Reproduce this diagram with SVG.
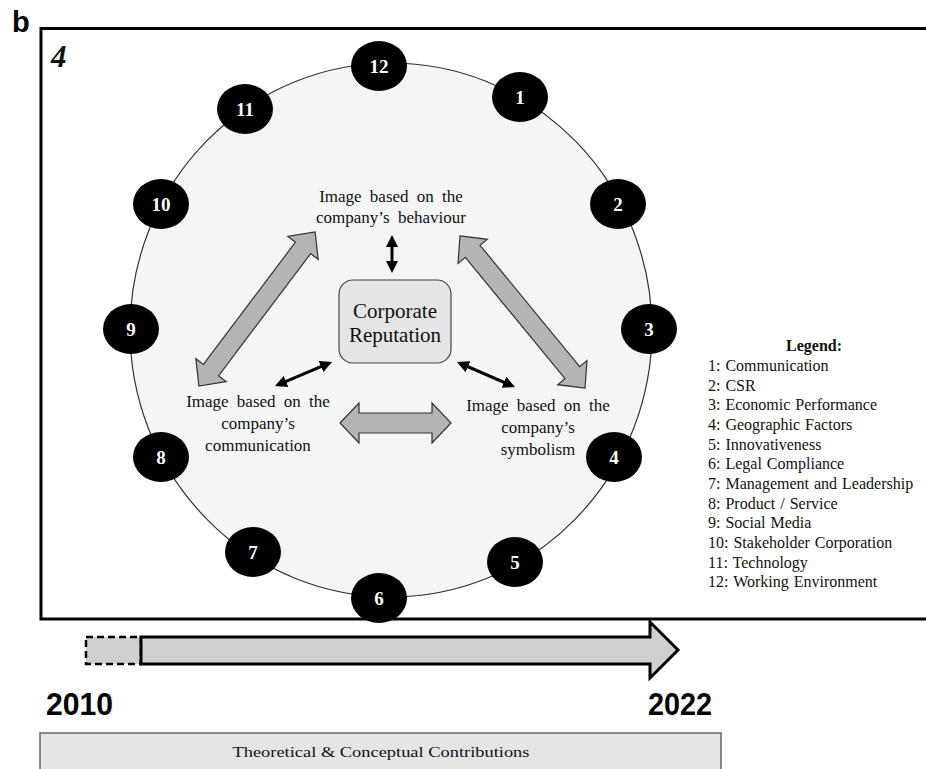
<svg xmlns="http://www.w3.org/2000/svg" width="926" height="769" viewBox="0 0 926 769">
  <style>
    .serif { font-family: "Liberation Serif", "Times New Roman", serif; fill: #111; }
    .lbl { font-size: 17px; text-anchor: middle; word-spacing: 4px; }
    .badge ellipse { fill: #000; }
    .badge text { font-family: "Liberation Serif", serif; font-weight: bold; font-size: 19px; fill: #fff; text-anchor: middle; }
    .legend { font-family: "Liberation Serif", serif; font-size: 16px; fill: #111; word-spacing: 1px; }
    .garrow { fill: #b4b4b4; stroke: #333; stroke-width: 1.2; stroke-linejoin: miter; }
    .barrow { stroke: #000; stroke-width: 3; fill: none; marker-start: url(#ah); marker-end: url(#ah); }
    .sans { font-family: "Liberation Sans", Arial, sans-serif; font-weight: bold; fill: #000; }
  </style>
  <defs>
    <marker id="ah" viewBox="0 0 12 12" refX="7" refY="6" markerWidth="12" markerHeight="12" markerUnits="userSpaceOnUse" orient="auto-start-reverse">
      <path d="M0,0 L12,6 L0,12 z" fill="#000"/>
    </marker>
  </defs>
  <rect width="926" height="769" fill="#fff"/>

  <!-- panel label -->
  <text x="12" y="32" class="sans" font-size="29">b</text>

  <!-- main frame -->
  <rect x="41" y="28.5" width="900" height="590.5" fill="#fff" stroke="#000" stroke-width="3"/>
  <text x="51" y="67" class="serif" font-size="31" font-style="italic" font-weight="bold">4</text>

  <!-- big circle -->
  <g id="ring">
    <ellipse cx="391" cy="330" rx="261" ry="267" fill="#f5f5f5" stroke="#333" stroke-width="1.2"/>
  </g>

  <!-- connectors -->
  <g id="connectors">
    <polygon class="garrow" transform="translate(257,309) rotate(-53)" points="-96.5,0 -76.5,-19 -76.5,-9.5 76.5,-9.5 76.5,-19 96.5,0 76.5,19 76.5,9.5 -76.5,9.5 -76.5,19"/>
    <polygon class="garrow" transform="translate(522.5,312) rotate(50.6)" points="-98.5,0 -78.5,-19 -78.5,-9.5 78.5,-9.5 78.5,-19 98.5,0 78.5,19 78.5,9.5 -78.5,9.5 -78.5,19"/>
    <polygon class="garrow" transform="translate(395.5,423)" points="-55.5,0 -36.5,-20 -36.5,-10 36.5,-10 36.5,-20 55.5,0 36.5,20 36.5,10 -36.5,10 -36.5,20"/>
    <line class="barrow" x1="392" y1="240" x2="392" y2="268"/>
    <line class="barrow" x1="279.6" y1="384.1" x2="327.4" y2="363.9"/>
    <line class="barrow" x1="461.6" y1="364" x2="510.4" y2="385"/>
  </g>

  <!-- central node -->
  <g id="corporate-reputation">
    <rect x="339" y="280" width="112" height="83" rx="14" ry="14" fill="#e4e5e4" stroke="#444" stroke-width="1.2"/>
    <text class="serif" x="395" y="318" font-size="21" text-anchor="middle">Corporate</text>
    <text class="serif" x="395" y="342" font-size="21" text-anchor="middle">Reputation</text>
  </g>

  <g id="image-behaviour">
    <text class="serif lbl" x="391" y="202">Image based on the</text>
    <text class="serif lbl" x="391" y="223">company’s behaviour</text>
  </g>
  <g id="image-communication">
    <text class="serif lbl" x="258" y="407">Image based on the</text>
    <text class="serif lbl" x="258" y="429">company’s</text>
    <text class="serif lbl" x="258" y="451">communication</text>
  </g>
  <g id="image-symbolism">
    <text class="serif lbl" x="538" y="411">Image based on the</text>
    <text class="serif lbl" x="538" y="433">company’s</text>
    <text class="serif lbl" x="538" y="455">symbolism</text>
  </g>

  <!-- badges -->
  <g id="badge-1" class="badge"><ellipse cx="520" cy="97" rx="28" ry="25"/><text x="520" y="104">1</text></g>
  <g id="badge-2" class="badge"><ellipse cx="618" cy="204" rx="28" ry="25"/><text x="618" y="211">2</text></g>
  <g id="badge-3" class="badge"><ellipse cx="649" cy="329" rx="28" ry="25"/><text x="649" y="336">3</text></g>
  <g id="badge-4" class="badge"><ellipse cx="614" cy="457" rx="28" ry="25"/><text x="614" y="464">4</text></g>
  <g id="badge-5" class="badge"><ellipse cx="515" cy="562" rx="28" ry="25"/><text x="515" y="569">5</text></g>
  <g id="badge-6" class="badge"><ellipse cx="379" cy="598" rx="28" ry="25"/><text x="379" y="605">6</text></g>
  <g id="badge-7" class="badge"><ellipse cx="253" cy="552" rx="28" ry="25"/><text x="253" y="559">7</text></g>
  <g id="badge-8" class="badge"><ellipse cx="161" cy="457" rx="28" ry="25"/><text x="161" y="464">8</text></g>
  <g id="badge-9" class="badge"><ellipse cx="131" cy="329" rx="28" ry="25"/><text x="131" y="336">9</text></g>
  <g id="badge-10" class="badge"><ellipse cx="161" cy="204" rx="28" ry="25"/><text x="161" y="211">10</text></g>
  <g id="badge-11" class="badge"><ellipse cx="245" cy="109" rx="28" ry="25"/><text x="245" y="116">11</text></g>
  <g id="badge-12" class="badge"><ellipse cx="379" cy="66" rx="28" ry="25"/><text x="379" y="73">12</text></g>

  <!-- legend -->
  <g id="legend">
    <text class="legend" x="814" y="351" text-anchor="middle" font-weight="bold">Legend:</text>
    <text class="legend" x="708" y="371">1: Communication</text>
    <text class="legend" x="708" y="390.7">2: CSR</text>
    <text class="legend" x="708" y="410.3">3: Economic Performance</text>
    <text class="legend" x="708" y="430">4: Geographic Factors</text>
    <text class="legend" x="708" y="449.6">5: Innovativeness</text>
    <text class="legend" x="708" y="469.3">6: Legal Compliance</text>
    <text class="legend" x="708" y="488.9">7: Management and Leadership</text>
    <text class="legend" x="708" y="508.6">8: Product / Service</text>
    <text class="legend" x="708" y="528.2">9: Social Media</text>
    <text class="legend" x="708" y="547.9">10: Stakeholder Corporation</text>
    <text class="legend" x="708" y="567.5">11: Technology</text>
    <text class="legend" x="708" y="587.2">12: Working Environment</text>
  </g>

  <!-- timeline -->
  <g id="timeline">
    <rect x="86" y="637" width="55" height="27" fill="#d0d0d0" stroke="#000" stroke-width="2.5" stroke-dasharray="7,4"/>
    <polygon points="141,637 650,637 650,622 678,650 650,678 650,664 141,664" fill="#d0d0d0" stroke="#000" stroke-width="3" stroke-linejoin="miter"/>
    <text class="sans" x="46" y="715" font-size="32" textLength="67" lengthAdjust="spacingAndGlyphs">2010</text>
    <text class="sans" x="648" y="715" font-size="32" textLength="64" lengthAdjust="spacingAndGlyphs">2022</text>
  </g>

  <g id="contributions">
    <rect x="40" y="733" width="681" height="45" fill="#e4e5e4" stroke="#666" stroke-width="1.5"/>
    <text class="serif" x="381" y="757" font-size="15.5" text-anchor="middle" textLength="297" lengthAdjust="spacingAndGlyphs">Theoretical &amp; Conceptual Contributions</text>
  </g>
</svg>
